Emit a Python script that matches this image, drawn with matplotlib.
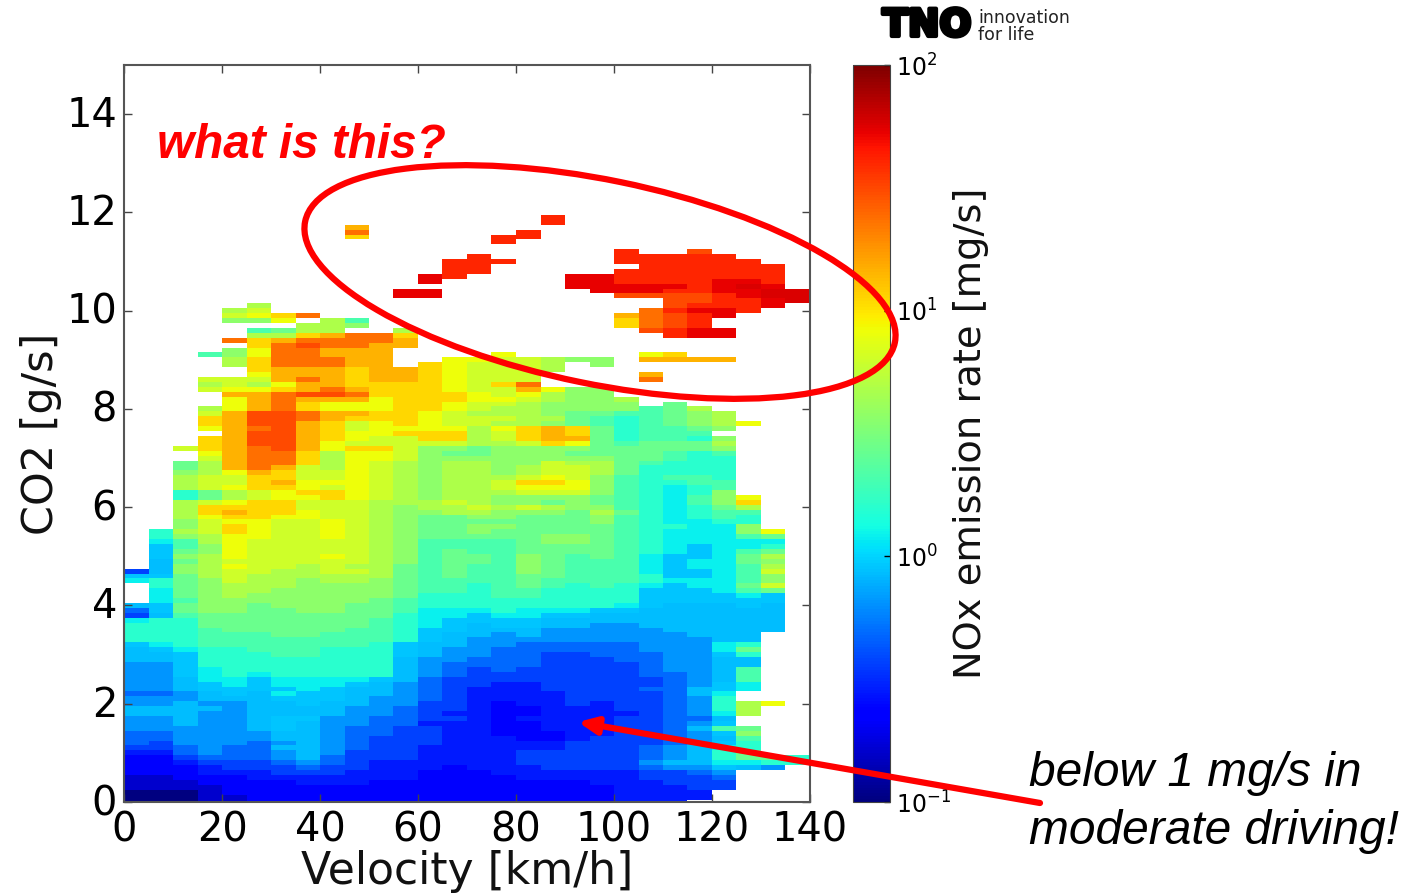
# NOx emission rate map, velocity vs CO2
import numpy as np
import matplotlib
matplotlib.use('Agg')
import matplotlib.pyplot as plt
from matplotlib.colors import LogNorm
from matplotlib.patches import Ellipse
from matplotlib.transforms import ScaledTranslation
import matplotlib.patheffects as pe

W, H = 1417, 893

velocity_edges = np.arange(0, 145, 5)
xticks = [0, 20, 40, 60, 80, 100, 120, 140]
yticks = [0, 2, 4, 6, 8, 10, 12, 14]

# level letters a..z run from 10^-1 to 10^2 mg/s (log scale), . is no data
levels = 'abcdefghijklmnopqrstuvwxyz'

# one string per CO2 bin, top bin (11.9 g/s) first, left half | right half of the velocity bins
nox_rows = [
    ".............. ...v..........",
    ".............. ...v..........",
    ".........s.... ..............",
    ".........t.... ..v...........",
    ".........r.... .vv...........",
    ".............. .v............",
    ".............. ..............",
    ".............. ......v..u....",
    ".............. v.....vvvvv...",
    ".............v vv....vvvvvv..",
    ".............v v......vvvvvv.",
    ".............v v.....vvvvvvv.",
    "............wv ....wwvvvvvvv.",
    "............w. ....wwvvvvwwv.",
    ".............. ....wwwwwvwxw.",
    "...........ww. .....wwwvvwwxx",
    "...........ww. ......uuuuvwxx",
    ".............. ........uuvvwx",
    ".....o........ ........uvvvw.",
    "....op........ .......tvwwv..",
    "....pqrt...... ......stuvw...",
    "....nnq.ol.... ......rtuv....",
    ".......oon.... ......rtuv....",
    ".....lmoo..o.. .......uvww...",
    ".....oorsttr.. ........vww...",
    "....trstttts.. ..............",
    ".....rtuttss.. ..............",
    "....nqttsss... ..............",
    "...lnqttsss... .q.....qr.....",
    "....ortttss..q qpponn.ssss...",
    "....ortttss.rq pppo.n........",
    ".....rsssrssrq pppo..........",
    ".....qsssrssrq ppp....s......",
    "...pppstsrssrq ppp....t......",
    "...opoqssrrrrq prt...........",
    "...pqqrstsrrrq ppsqnn........",
    "....sstuutrrrr qpqonn........",
    "....qstsssqrrr qqponno.......",
    "....qstrqqqrrq pponnnn.m.....",
    "...oqstrqqqrrq poonnnnlmo....",
    "...psuutssrrqp ooonmmllmno...",
    "...rsuutsrrrqp ppoomlklmno...",
    "...rsuusrpqrqp poonmlklmnoq..",
    "...qstusrpqqqq oqrsrmkllmn...",
    "....suusrqqrrr oprsrmklll....",
    "...rsuusrqpprr oprssmkllkn...",
    "...rsuusqppppp ooprqmlmmmo...",
    "..prstusqrrpnn mnnnnmmmmmn...",
    "...qsttroqqpnm mnnnmmmmlkl...",
    "...psttroqqpnn nnnnnnmmlkk...",
    "..mosttroqpono onnpoomlkkk...",
    "..mostspoqpono onoppomkkkk...",
    "..noqsrppqpono onoppomkkkk...",
    "..opprrppqpono oopqpnlkllk...",
    "..opprsqqqpono oprrqnlkkll...",
    "..opqrrqpqpono opqqqnlkjkl...",
    "..kmopqrrqpono oopppnlkjkn...",
    "..kmopqqrqpono onnnnmlkjlnq..",
    "..opqrrpppooop onnmnmlkjlnr..",
    "..orrrrppponoo poponnlkjkmo..",
    "..orsrrqpponno onnnmomkjkll..",
    "..oqrrqqpponmm nnmmmnlkjklk..",
    "..npqqppqponmm mmmmmnlkjjkk..",
    "..nprqppqponmm nnmmmmlkkjjn..",
    ".koprqppqponmm nmmmmmlkjjjnq.",
    ".knoqqppqponmm mmmnnmlkjjjlm.",
    ".jloqppppponll llmnnmlkjjjjj.",
    ".ilnqppppponll llmmmmlkjijjk.",
    ".imnqppppponlm llmmmmlkjijlm.",
    ".inoqpppqponlm mlnmlmljiijmo.",
    ".hmopppppponlm mlnmllljijjmn.",
    ".hnoqppopoomlm llnmllljijjlo.",
    "ehnoppooppomlm llnmllljiijlp.",
    "iimopoooooomlm llmmlllkiijln.",
    "jkmnpoonoonmll llmllllkjjjln.",
    ".kmnooonnnnmll klmlklkjijjmp.",
    ".jmnoonnnnnmll kllkkkkiiijlm.",
    ".jmnonnnnnnmkk kllkkkkiiiiji.",
    ".jlnnnnnnnmlkk kkkkkkkiiiiii.",
    "himnnmnnnmmlkk kkkkkkjihhhih.",
    "fimnnmmnnmmljj jkjjjiihhhhhh.",
    "ehlmmmmmmmmkjj ijjiihhhhhhhh.",
    "jkkmmmmmmmlkji iiihhhhhhhhhh.",
    "kkkmmmmmmmlkji hiihhgghhhhhh.",
    "kkklmmmmmllkii hhhggggghhhhh.",
    "kkklllmmlllkih hghgggggghhh..",
    "kkkllllllllkih gggggggggghh..",
    "ijklllllllkihh ggfffffgggjk..",
    "hijkklllkkkihg gffffffgggjm..",
    "hhikkkllkkkihg gffeefffggik..",
    "hhikkkkkkkkhgg fffeeeffgghh..",
    "ggikkkkkkkkhgf fffeeeefgghh..",
    "ggijkkkkkkkhgf efeeeeefgghl..",
    "ggijkjkkkkkhgf eeeeeeeffghl..",
    "gghjjijjjjihfe eeeeeeeefghl..",
    "gghijijjjihgfe eddeeeeefgij..",
    "gghiiiijihhgfe dddeeeeffhij..",
    "ffghihjiihhgfe ddddeeeefhj...",
    "ggghhhiiihggfe ddddeeeefgk...",
    "gghgghhihhggee dcddedeefgkoq.",
    "hhhhghhhhggfee dccdddeefgko..",
    "hhhgghhhhggfed dccddddefgjo..",
    "gghgghiiggffee dcddddeeffh...",
    "gghgghihggffdd dccdddeefgi...",
    "ggggghihgffeed dccdddeefhlm..",
    "ffgggghhgffeed dcccddeefgin..",
    "ffgggghhgfeeed ddccdeeefghl..",
    "fegggfghgfeeed ddddeeeefgik..",
    "eefgffhhgfeedd ddddeeefghjk..",
    "ddfgffghgeeedd ddeeeeefghkm..",
    "ccefffghfeeedd ddeeeeefghkmmk",
    "ccdeeefgfedddd ddeeeeeghhjjkk",
    "cccdeeefeedddc dddeeeefggihg.",
    "cccdddeeedddcc cddddddeefg...",
    "bbcccdddddddcc ccdddddeeef...",
    "bbbccccdddcccc cccccdddeee...",
    "bbbbcccccccccc ccccccdddee...",
    "aaabcccccccccc ccccccdddd....",
    "aaabbccccccccc ccccccdddd....",
    "aaabbccccccccc ccccccddd.....",
]

# my blues and reds read a bit low, nudge those letters up
low_letters = 'bcdefgh'
high_letters = 'tuvw'

nox = np.full((len(nox_rows), 28), np.nan)
for i, row in enumerate(nox_rows):
    row = row.replace(' ', '')
    for j, ch in enumerate(row[:28]):
        if ch != '.':
            p = levels.index(ch) / 25.0
            if ch in low_letters or ch in high_letters:
                p += 0.03
            nox[i, j] = 10 ** (-1 + 3 * p)
nox = nox[::-1]  # lowest CO2 bin first
co2_edges = (np.arange(nox.shape[0] + 1) - 0.5) * 0.1

def box(x0, y0, x1, y1):
    return [x0 / W, 1 - y1 / H, (x1 - x0) / W, (y1 - y0) / H]

plt.rcParams['font.family'] = 'DejaVu Sans'
fig = plt.figure(figsize=(W / 100, H / 100), dpi=100)
ax = fig.add_axes(box(124, 65, 810, 802))

cmap = plt.get_cmap('jet').copy()
cmap.set_bad('white')
mesh = ax.pcolormesh(velocity_edges, co2_edges, np.ma.masked_invalid(nox), cmap=cmap,
                     norm=LogNorm(vmin=0.1, vmax=100))
ax.set_xlim(0, 140)
ax.set_ylim(0, 15)
ax.set_xticks(xticks)
ax.set_yticks(yticks)
ax.tick_params(direction='in', top=True, right=True, length=6, width=1, color='#444444',
               labelsize=28.7, pad=6)
ax.tick_params(axis='y', pad=5)
# the y labels sit a little above their ticks
for lab in ax.get_yticklabels():
    lab.set_transform(lab.get_transform() + ScaledTranslation(0, 2.5 / 100, fig.dpi_scale_trans))
ax.set_xlabel('Velocity [km/h]', fontsize=31.8, labelpad=0, color='#111111')
ax.set_ylabel('CO2 [g/s]', fontsize=31, labelpad=3, color='#111111')
for s in ax.spines.values():
    s.set_color('#555555')
    s.set_linewidth(1.5)

cax = fig.add_axes(box(853, 65, 890, 802))
cb = fig.colorbar(mesh, cax=cax)
cb.ax.minorticks_off()
cb.ax.tick_params(direction='in', length=4, width=1, labelsize=17, pad=4)
cb.outline.set_edgecolor('#444444')
cb.set_label('NOx emission rate [mg/s]', fontsize=27.6, labelpad=2, color='#111111')

# callouts are drawn over everything in pixel coordinates
over = fig.add_axes([0, 0, 1, 1], facecolor='none')
over.set_xlim(0, W)
over.set_ylim(H, 0)
over.axis('off')

over.add_patch(Ellipse((600, 282), 602, 204, angle=11.6, fill=False, edgecolor='#ff0000', linewidth=4.5))
over.annotate('', xy=(578, 722), xytext=(1040, 803),
              arrowprops=dict(arrowstyle='-|>,head_length=0.55,head_width=0.25', color='#ff0000',
                              linewidth=4.5, shrinkA=0, shrinkB=0, mutation_scale=20))
over.text(157, 146, 'what is this?', color='#ff0000', fontsize=34.4, fontweight='bold', fontstyle='italic',
          family='Liberation Sans', ha='left', va='center')
over.text(1029, 774, 'below 1 mg/s in', color='black', fontsize=34.5, fontstyle='italic',
          family='Liberation Sans', ha='left', va='center')
over.text(1029, 831, 'moderate driving!', color='black', fontsize=34.5, fontstyle='italic',
          family='Liberation Sans', ha='left', va='center')

logo = over.text(927, 26, 'TNO', color='black', fontsize=27, fontweight='bold', ha='center', va='center',
                 family='DejaVu Sans')
logo.set_path_effects([pe.withStroke(linewidth=3, foreground='black')])
over.text(978, 18, 'innovation', color='#222222', fontsize=12.5, ha='left', va='center')
over.text(978, 35, 'for life', color='#222222', fontsize=12.5, ha='left', va='center')

fig.savefig('out.png', dpi=100)
